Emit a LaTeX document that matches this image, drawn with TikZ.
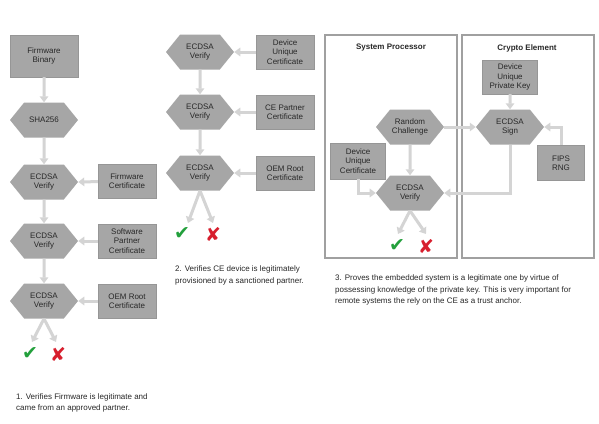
\documentclass[tikz,border=0pt]{standalone}
\usepackage{fontspec}
\setmainfont{Liberation Sans}
\newfontfamily\symfont{DejaVu Sans}
\usetikzlibrary{arrows.meta,shapes.symbols}

\definecolor{boxgray}{RGB}{166,166,166}
\definecolor{boxline}{RGB}{150,150,150}
\definecolor{flowgray}{RGB}{212,212,212}
\definecolor{framegray}{RGB}{160,160,160}
\definecolor{txtgray}{RGB}{40,40,40}
\definecolor{okgreen}{RGB}{35,160,60}
\definecolor{badred}{RGB}{215,30,45}

\tikzset{
  cert/.style={draw=boxline,fill=boxgray,inner sep=0pt,text=txtgray,align=center,
    font=\fontsize{8}{9.5}\selectfont,minimum width=58pt,minimum height=34pt},
  hexa/.style={shape=signal,signal to=west and east,signal pointer angle=102,
    fill=boxgray,inner sep=0pt,text=txtgray,align=center,
    font=\fontsize{8}{9.5}\selectfont,minimum width=68pt,minimum height=35pt},
  flow/.style={draw=flowgray,line width=3pt,-{Triangle[width=8.5pt,length=6pt]}},
  frame/.style={draw=framegray,line width=1.3pt},
  caption/.style={anchor=west,align=left,text=txtgray,font=\fontsize{8}{11.5}\selectfont,inner sep=0pt},
  title/.style={text=txtgray,font=\fontsize{8}{10}\selectfont\bfseries},
  ok/.style={text=okgreen,font=\symfont\fontsize{19}{19}\selectfont},
  bad/.style={text=badred,font=\symfont\fontsize{19}{19}\selectfont}
}

\begin{document}
\begin{tikzpicture}[x=1pt,y=-1pt]
  \useasboundingbox[fill=white] (0,0) rectangle (599,423);

  % firmware chain
  \node[cert,minimum width=68pt,minimum height=42pt] (fwbin) at (44,56) {Firmware\\Binary};
  \node[hexa] (sha) at (44,120) {SHA256};
  \node[hexa] (fwver) at (44,182) {ECDSA\\Verify};
  \node[hexa] (swver) at (44,241) {ECDSA\\Verify};
  \node[hexa] (oemver) at (44,301) {ECDSA\\Verify};
  \node[cert] (fwcert) at (127,181) {Firmware\\Certificate};
  \node[cert] (swcert) at (127,241) {Software\\Partner\\Certificate};
  \node[cert] (oemcert) at (127,301) {OEM Root\\Certificate};
  \coordinate (fwok) at (32,342);
  \coordinate (fwbad) at (56,342);
  \node[ok] (fwcheck) at (30,354) {✔};
  \node[bad] (fwcross) at (58,354) {✘};

  \draw[flow] (fwbin) -- (sha);
  \draw[flow] (sha) -- (fwver);
  \draw[flow] (fwver) -- (swver);
  \draw[flow] (swver) -- (oemver);
  \draw[flow] (fwcert) -- (fwver.east);
  \draw[flow] (swcert) -- (swver.east);
  \draw[flow] (oemcert) -- (oemver.east);
  \draw[flow] (oemver.south) -- (fwok);
  \draw[flow] (oemver.south) -- (fwbad);

  \node[caption] (capfw) at (16,403) {1. Verifies Firmware is legitimate and\\came from an approved partner.};

  % crypto element chain
  \node[hexa] (duver) at (200,52) {ECDSA\\Verify};
  \node[hexa] (cever) at (200,112) {ECDSA\\Verify};
  \node[hexa] (rootver) at (200,173) {ECDSA\\Verify};
  \node[cert] (ducert) at (285,52) {Device\\Unique\\Certificate};
  \node[cert] (cecert) at (285,112) {CE Partner\\Certificate};
  \node[cert] (rootcert) at (285,173) {OEM Root\\Certificate};
  \coordinate (ceok) at (188,223);
  \coordinate (cebad) at (213,223);
  \node[ok] (cecheck) at (182,234) {✔};
  \node[bad] (cecross) at (213,234) {✘};

  \draw[flow] (duver) -- (cever);
  \draw[flow] (cever) -- (rootver);
  \draw[flow] (ducert) -- (duver.east);
  \draw[flow] (cecert) -- (cever.east);
  \draw[flow] (rootcert) -- (rootver.east);
  \draw[flow] (rootver.south) -- (ceok);
  \draw[flow] (rootver.south) -- (cebad);

  \node[caption] (capce) at (175,275.5) {2. Verifies CE device is legitimately\\provisioned by a sanctioned partner.};

  % challenge / response
  \draw[frame] (325,35) rectangle (457,258);
  \draw[frame] (462,35) rectangle (594,258);
  \node[title] (sptitle) at (391,48) {System Processor};
  \node[title] (cetitle) at (527,48) {Crypto Element};

  \node[cert,minimum width=55pt] (privkey) at (510,77) {Device\\Unique\\Private Key};
  \node[hexa] (sign) at (510,127) {ECDSA\\Sign};
  \node[cert,minimum width=47pt,minimum height=35pt] (rng) at (561,163) {FIPS\\RNG};
  \node[hexa] (chal) at (410,127) {Random\\Challenge};
  \node[cert,minimum width=55pt,minimum height=36pt] (devcert) at (358,161) {Device\\Unique\\Certificate};
  \node[hexa] (chver) at (410,193) {ECDSA\\Verify};
  \coordinate (chok) at (398,234);
  \coordinate (chbad) at (426,234);
  \node[ok] (chcheck) at (397,246) {✔};
  \node[bad] (chcross) at (426,246) {✘};

  \draw[flow] (privkey) -- (sign);
  \draw[flow] (rng.north) |- (sign.east);
  \draw[flow] (chal.east) -- (sign.west);
  \draw[flow] (chal) -- (chver);
  \draw[flow] (devcert.south) |- (chver.west);
  \draw[flow] (sign.south) |- (chver.east);
  \draw[flow] (chver.south) -- (chok);
  \draw[flow] (chver.south) -- (chbad);

  \node[caption] (capch) at (335,290) {3. Proves the embedded system is a legitimate one by virtue of\\possessing knowledge of the private key. This is very important for\\remote systems the rely on the CE as a trust anchor.};
\end{tikzpicture}
\end{document}
